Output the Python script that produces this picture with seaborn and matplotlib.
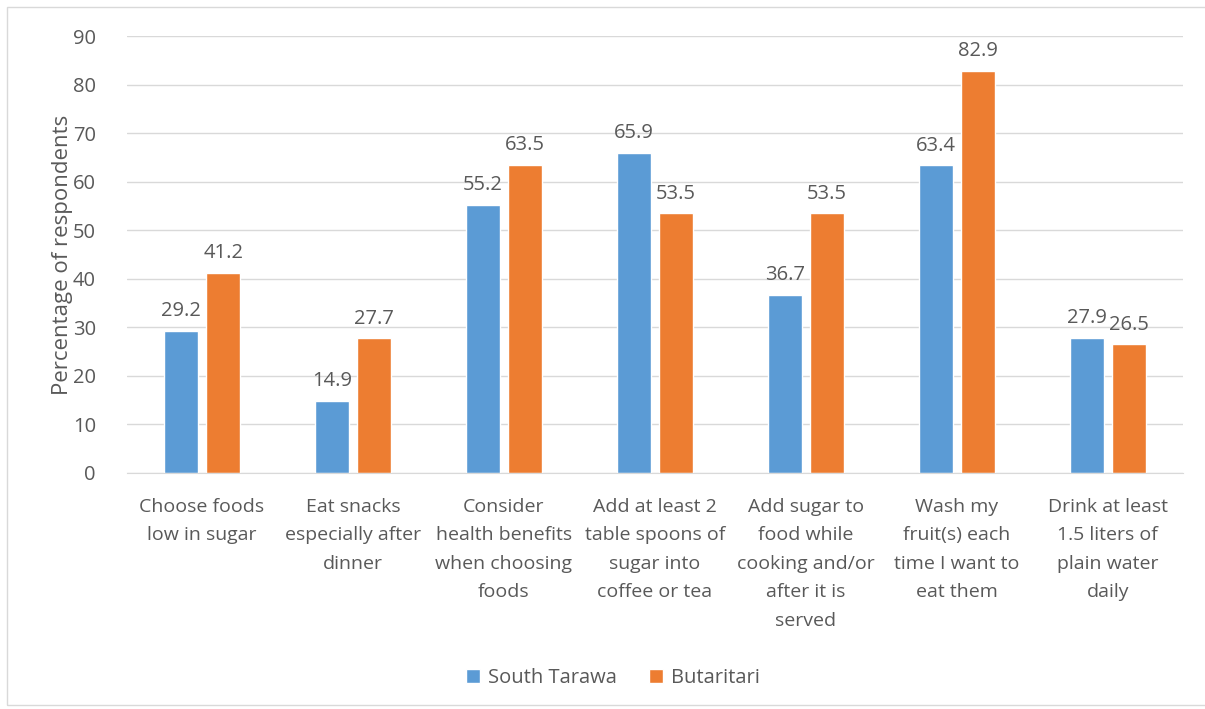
import pandas as pd
import numpy as np
import seaborn as sns
import matplotlib.pyplot as plt

categories = ["Choose foods\nlow in sugar",
              "Eat snacks\nespecially after\ndinner",
              "Consider\nhealth benefits\nwhen choosing\nfoods",
              "Add at least 2\ntable spoons of\nsugar into\ncoffee or tea",
              "Add sugar to\nfood while\ncooking and/or\nafter it is\nserved",
              "Wash my\nfruit(s) each\ntime I want to\neat them",
              "Drink at least\n1.5 liters of\nplain water\ndaily"]
south_tarawa = [29.2, 14.9, 55.2, 65.9, 36.7, 63.4, 27.9]
butaritari = [41.2, 27.7, 63.5, 53.5, 53.5, 82.9, 26.5]
groups = ["South Tarawa", "Butaritari"]
colors = ["#5b9bd5", "#ed7d31"]

df = pd.DataFrame({
    "item": categories * 2,
    "pct": south_tarawa + butaritari,
    "site": [groups[0]] * 7 + [groups[1]] * 7,
})

sns.set_style("white")
plt.rcParams['font.family'] = ['Open Sans', 'DejaVu Sans']
txt = "#595959"

fig = plt.figure(figsize=(12.05, 7.09), dpi=100)
ax = fig.add_axes([0.105, 0.333, 0.877, 0.616])

sns.barplot(data=df, x="item", y="pct", hue="site", palette=colors,
            width=0.56, gap=0.2, ax=ax, saturation=1, errorbar=None)

for cont in ax.containers:
    ax.bar_label(cont, fmt="%.1f", padding=7, fontsize=14.5, color=txt)

ax.set_ylim(0, 90)
ax.set_yticks(range(0, 91, 10))
ax.yaxis.grid(True, color="#d9d9d9", linewidth=1)
ax.set_axisbelow(True)
for s in ["top", "right", "left"]:
    ax.spines[s].set_visible(False)
ax.spines["bottom"].set_color("#d9d9d9")
ax.tick_params(axis="x", length=0, labelsize=14, colors=txt, pad=18)
ax.tick_params(axis="y", length=0, labelsize=14.5, colors=txt, pad=22)
ax.set_xlabel("")
ax.set_ylabel("Percentage of respondents", fontsize=16, color=txt, labelpad=0)
for lab in ax.get_xticklabels():
    lab.set_linespacing(1.75)
    lab.set_verticalalignment("top")

ax.legend(loc="center", bbox_to_anchor=(0.46, -0.47), ncol=2, frameon=False,
          fontsize=14.5, labelcolor=txt, handlelength=0.7, handleheight=0.7,
          columnspacing=1.6, handletextpad=0.4)

# light frame around the chart area
fig.add_artist(plt.Rectangle((7 / 1205, 0.005), 1.2, 0.985, transform=fig.transFigure,
                             fill=False, edgecolor="#d9d9d9", linewidth=1))

fig.savefig("out.png", dpi=100, facecolor="white")
